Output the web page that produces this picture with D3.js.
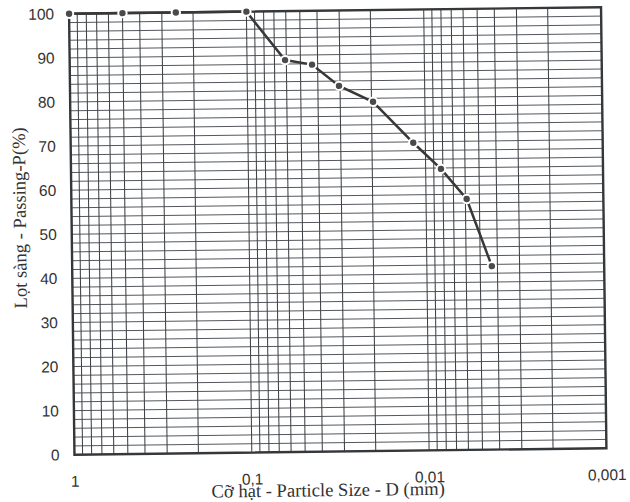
<!DOCTYPE html>
<html>
<head>
<meta charset="utf-8">
<script src="https://cdn.jsdelivr.net/npm/d3@7"></script>
<style>
  html, body { margin: 0; padding: 0; background: #fff; }
  svg { display: block; }
</style>
</head>
<body>
<svg id="chart" width="630" height="502"></svg>
<script>
// particle sizes (mm) and percent passing
const sizes = [1, 0.5, 0.25, 0.1, 0.061, 0.043, 0.0304, 0.0196, 0.0117, 0.0082, 0.0059, 0.0043]
const passing = [100, 100, 100, 100, 88.9, 87.8, 82.9, 79.2, 69.8, 63.8, 56.9, 41.6]

const xTickValues = [1, 0.1, 0.01, 0.001]
const xTickLabels = ["1", "0,1", "0,01", "0,001"]
const yTickValues = [0, 10, 20, 30, 40, 50, 60, 70, 80, 90, 100]

const width = 630, height = 502
const margin = {top: 10.5, right: 26.25, bottom: 50.5, left: 71.75}
const innerW = width - margin.left - margin.right
const innerH = height - margin.top - margin.bottom

const svg = d3.select("#chart")
svg.append("rect").attr("width", width).attr("height", height).attr("fill", "#fff")

// the scan is slightly tilted
const page = svg.append("g")
    .attr("transform", `rotate(-0.7, ${margin.left + innerW / 2}, ${margin.top + innerH / 2})`)

const g = page.append("g").attr("transform", `translate(${margin.left},${margin.top})`)

const x = d3.scaleLog().domain([1, 0.001]).range([0, innerW])
const y = d3.scaleLinear().domain([0, 100]).range([innerH, 0])

// grid
g.append("g").attr("class", "grid-y")
    .selectAll("line")
    .data(y.ticks(50))
    .join("line")
    .attr("x1", 0).attr("x2", innerW)
    .attr("y1", d => y(d)).attr("y2", d => y(d))
    .attr("stroke", "#4a4f54").attr("stroke-width", 0.95)

g.append("g").attr("class", "grid-x")
    .selectAll("line")
    .data(x.ticks())
    .join("line")
    .attr("x1", d => x(d)).attr("x2", d => x(d))
    .attr("y1", 0).attr("y2", innerH)
    .attr("stroke", "#404347").attr("stroke-width", 1.05)

// frame
g.append("rect")
    .attr("width", innerW).attr("height", innerH)
    .attr("fill", "none").attr("stroke", "#35383b").attr("stroke-width", 2.4)

// axes
const xAxis = g.append("g")
    .attr("transform", `translate(0,${innerH})`)
    .call(d3.axisBottom(x).tickValues(xTickValues).tickFormat((d, i) => xTickLabels[i]).tickSize(0).tickPadding(21))
xAxis.select(".domain").remove()

const yAxis = g.append("g")
    .call(d3.axisLeft(y).tickValues(yTickValues).tickFormat(d3.format("d")).tickSize(0).tickPadding(15))
yAxis.select(".domain").remove()

g.selectAll(".tick text")
    .attr("font-family", "'Liberation Sans', Arial, sans-serif")
    .attr("font-size", 15.5)
    .attr("fill", "#333")

// curve
const pts = sizes.map((s, i) => [s, passing[i]])
g.append("path")
    .datum(pts)
    .attr("fill", "none")
    .attr("stroke", "#383838")
    .attr("stroke-width", 2.5)
    .attr("d", d3.line().x(d => x(d[0])).y(d => y(d[1])))

g.selectAll("circle.pt")
    .data(pts)
    .join("circle")
    .attr("class", "pt")
    .attr("cx", d => x(d[0]))
    .attr("cy", d => y(d[1]))
    .attr("r", 4.2)
    .attr("fill", "#4a4a4a")
    .attr("stroke", "#fff")
    .attr("stroke-width", 2)

// titles
page.append("text")
    .attr("x", 325).attr("y", 496)
    .attr("text-anchor", "middle")
    .attr("font-family", "'Liberation Serif', 'Times New Roman', serif")
    .attr("font-size", 18.6)
    .attr("fill", "#333")
    .text("Cỡ hạt - Particle Size - D (mm)")

page.append("text")
    .attr("transform", "translate(26,214) rotate(-90)")
    .attr("text-anchor", "middle")
    .attr("font-family", "'Liberation Serif', 'Times New Roman', serif")
    .attr("font-size", 18.6)
    .attr("fill", "#333")
    .text("Lọt sàng - Passing-P(%)")
</script>
</body>
</html>
